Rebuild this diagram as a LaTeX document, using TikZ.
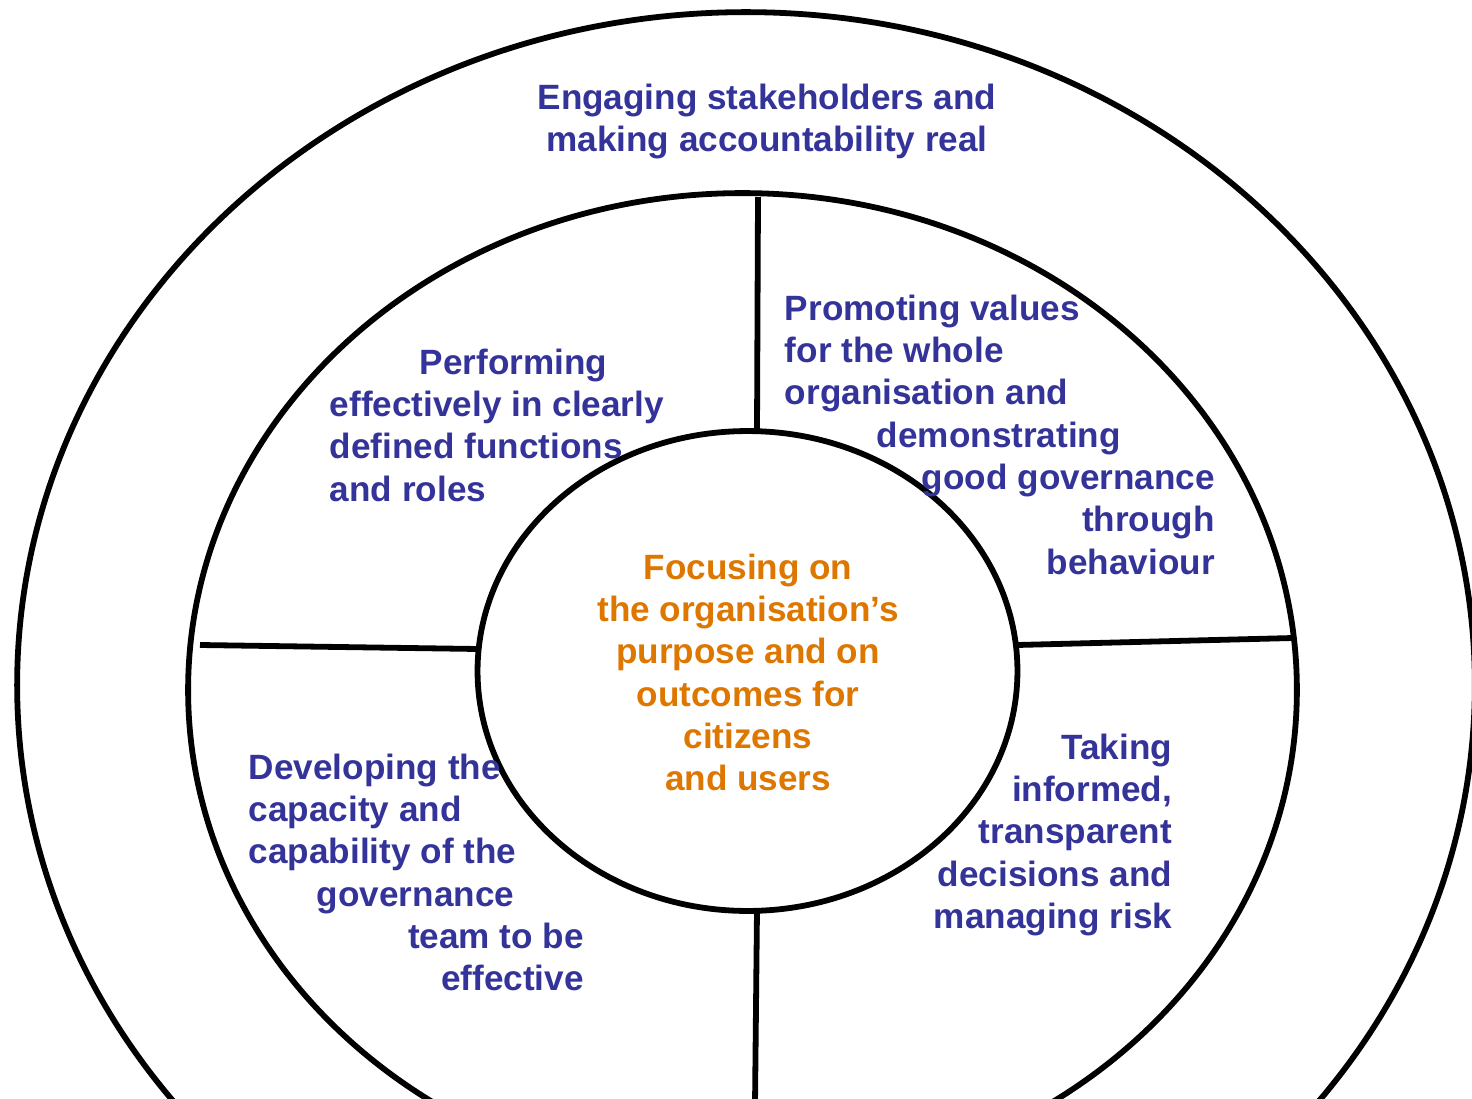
\documentclass[tikz,border=0pt]{standalone}
\usepackage{fontspec}
\setmainfont{Liberation Sans}
\definecolor{govblue}{RGB}{51,51,153}
\definecolor{govorange}{RGB}{221,119,0}

\begin{document}
\begin{tikzpicture}[x=0.02cm,y=-0.02cm,line width=3.3pt,
  every node/.style={inner sep=0pt,font=\bfseries\fontsize{20}{24.1}\selectfont,text=govblue}]
\useasboundingbox (0,0) rectangle (1472,1099);
\clip (0,0) rectangle (1472,1099);

% rings
\draw (746,685) ellipse [x radius=14.58cm,y radius=13.46cm];
\draw (742.5,690) ellipse [x radius=11.09cm,y radius=9.94cm];
\draw (747.5,671) ellipse [x radius=5.4cm,y radius=4.8cm];

% spokes
\coordinate (mtop) at (758,197);
\coordinate (itop) at (757,433);
\coordinate (mleft) at (200,645);
\coordinate (ileft) at (478,649);
\coordinate (iright) at (1017,645);
\coordinate (mright) at (1293,638);
\coordinate (ibot) at (757,910);
\coordinate (mbot) at (755,1105);

\draw (mtop) -- (itop);
\draw (mleft) -- (ileft);
\draw (iright) -- (mright);
\draw (ibot) -- (mbot);

\node (engage) at (767,109) [anchor=base,text width=10cm,align=flush center]
  {Engaging stakeholders and\\making accountability real};
\node (perform) at (327,374) [anchor=base west,text width=7cm,align=flush left]
  {\hspace*{1.8cm}Performing\\effectively in clearly\\defined functions\\and roles};
\node (promote) at (782,320) [anchor=base west,text width=8.6cm,align=flush left]
  {Promoting values\\for the whole\\organisation and\\\hspace*{1.84cm}demonstrating\\
   \hspace*{\fill}good governance\\\hspace*{\fill}through\\\hspace*{\fill}behaviour};
\node (develop) at (246,779) [anchor=base west,text width=6.7cm,align=flush left]
  {Developing the\\capacity and\\capability of the\\\hspace*{1.36cm}governance\\
   \hspace*{\fill}team to be\\\hspace*{\fill}effective};
\node (decide) at (1175,759) [anchor=base east,text width=5cm,align=flush right]
  {Taking\\informed,\\transparent\\decisions and\\managing risk};
\node (focus) at (748,579) [anchor=base,text width=8cm,align=flush center,text=govorange]
  {Focusing on\\the organisation’s\\purpose and on\\outcomes for\\citizens\\and users};
\end{tikzpicture}
\end{document}
